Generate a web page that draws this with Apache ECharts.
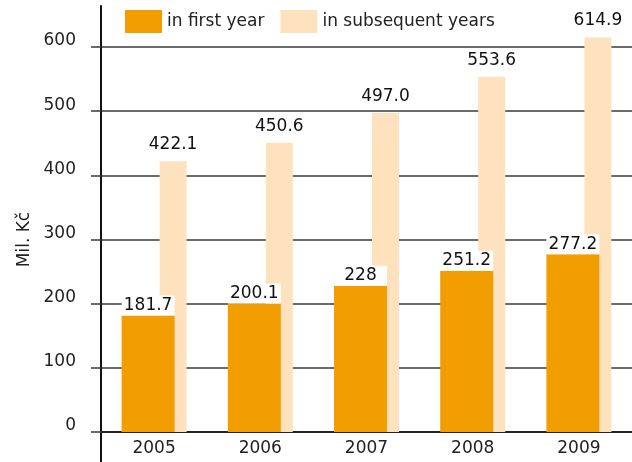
<!DOCTYPE html>
<html>
<head>
<meta charset="utf-8">
<script src="https://cdn.jsdelivr.net/npm/echarts@6/dist/echarts.min.js"></script>
<style>
html,body{margin:0;padding:0;background:#fff;}
#chart{width:632px;height:462px;}
</style>
</head>
<body>
<div id="chart"></div>
<script>
const years = ['2005', '2006', '2007', '2008', '2009'];
const firstYear = [181.7, 200.1, 228, 251.2, 277.2];
const subsequentYears = [422.1, 450.6, 497.0, 553.6, 614.9];
const firstYearLabels = ['181.7', '200.1', '228', '251.2', '277.2'];
const subsequentLabels = ['422.1', '450.6', '497.0', '553.6', '614.9'];
const seriesNames = ['in first year', 'in subsequent years'];
const yAxisName = 'Mil. Kč';
const yMin = 0, yMax = 600, yStep = 100;

const FONT = 'DejaVu Sans';
const FS = 17;
const ORANGE = '#F39E00';
const PEACH = '#FDE2BD';
const GRID = '#3a3a3a';

const chart = echarts.init(document.getElementById('chart'), null, {renderer: 'canvas'});
chart.setOption({
  animation: false,
  backgroundColor: '#fff',
  textStyle: {fontFamily: FONT},
  legend: {
    data: seriesNames,
    left: 125, top: 10, padding: 0,
    itemWidth: 37, itemHeight: 23, itemGap: 16,
    icon: 'rect',
    textStyle: {fontFamily: FONT, fontSize: FS, color: '#222'}
  },
  grid: [
    {left: 101, right: 0, top: 47, bottom: 30, containLabel: false},
    {left: 101, width: 10, top: 6, bottom: 0, containLabel: false}
  ],
  xAxis: [
    {
      type: 'category', gridIndex: 0, data: years,
      axisLine: {show: true, lineStyle: {color: '#222', width: 2}},
      axisTick: {show: false},
      axisLabel: {fontFamily: FONT, fontSize: FS, color: '#222', margin: 8}
    },
    {type: 'category', gridIndex: 1, show: false, data: ['']}
  ],
  yAxis: [
    {
      type: 'value', gridIndex: 0, min: yMin, max: yMax, interval: yStep,
      name: yAxisName, nameLocation: 'middle', nameGap: 64,
      nameTextStyle: {fontFamily: FONT, fontSize: FS, color: '#222'},
      axisLine: {show: false},
      axisTick: {show: true, length: 10, lineStyle: {color: GRID, width: 1.5}},
      splitLine: {show: true, lineStyle: {color: GRID, width: 1.5}},
      axisLabel: {fontFamily: FONT, fontSize: FS, color: '#222', margin: 25,
                  verticalAlign: 'bottom', lineHeight: 12}
    },
    {
      type: 'value', gridIndex: 1, min: 0, max: 1,
      axisLine: {show: true, lineStyle: {color: '#111', width: 2}},
      axisTick: {show: false}, axisLabel: {show: false}, splitLine: {show: false}
    }
  ],
  series: [
    {
      name: seriesNames[0], type: 'bar', xAxisIndex: 0, yAxisIndex: 0,
      data: firstYear, barWidth: 53, barGap: '-28.3%', z: 4, clip: false,
      itemStyle: {color: ORANGE},
      label: {
        show: true, position: 'top', distance: 0,
        formatter: p => firstYearLabels[p.dataIndex],
        backgroundColor: '#fff', width: 53, height: 20, lineHeight: 20,
        align: 'center', padding: 0,
        fontFamily: FONT, fontSize: FS, color: '#111'
      }
    },
    {
      name: seriesNames[1], type: 'bar', xAxisIndex: 0, yAxisIndex: 0,
      data: subsequentYears, barWidth: 27, barGap: '-28.3%', z: 2, clip: false,
      itemStyle: {color: PEACH},
      label: {
        show: true, position: 'top', distance: 8,
        formatter: p => subsequentLabels[p.dataIndex],
        fontFamily: FONT, fontSize: FS, color: '#111'
      }
    }
  ]
});
</script>
</body>
</html>
